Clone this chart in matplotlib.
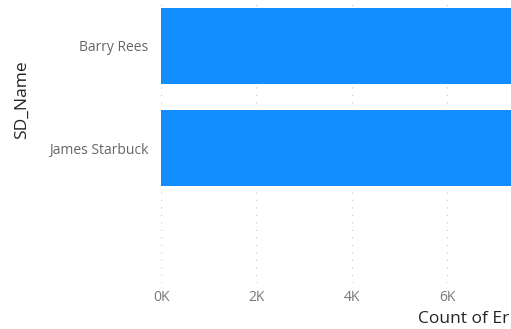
import matplotlib.pyplot as plt

names = ["Barry Rees", "James Starbuck"]
counts = [8200, 8200]
xticks = [0, 2000, 4000, 6000]
xtick_labels = ["0K", "2K", "4K", "6K"]

plt.rcParams['font.family'] = ['Open Sans', 'DejaVu Sans']

W, H = 511, 329
fig = plt.figure(figsize=(W / 100, H / 100), dpi=100)
# plot area runs off the right edge of the canvas, so the bars are cut off
ax = fig.add_axes([161 / W, 46 / H, 381.6 / W, 283 / H])

ax.barh(range(len(names)), counts, height=0.75, color="#118DFF", zorder=2)
ax.set_xlim(0, 8000)
ax.set_ylim(2.32, -0.45)

ax.set_yticks(range(len(names)))
ax.set_yticklabels(names, fontsize=10, color="#666666")
ax.set_xticks(xticks)
ax.set_xticklabels(xtick_labels, fontsize=10, color="#777777")
ax.tick_params(length=0)
ax.tick_params(axis="y", pad=9)
ax.tick_params(axis="x", pad=5)

ax.grid(axis="x", linestyle=(0, (0.8, 4.6)), color="#C8C8C8", linewidth=1, zorder=0)
for s in ax.spines.values():
    s.set_visible(False)

fig.text(22 / W, 1 - 100 / H, "SD_Name", rotation=90, fontsize=12.5,
         color="#252423", ha="center", va="center")
fig.text(418 / W, 1 - 319 / H, "Count of Er", fontsize=12.5,
         color="#252423", ha="left", va="center")

fig.savefig("out.png", dpi=100)
